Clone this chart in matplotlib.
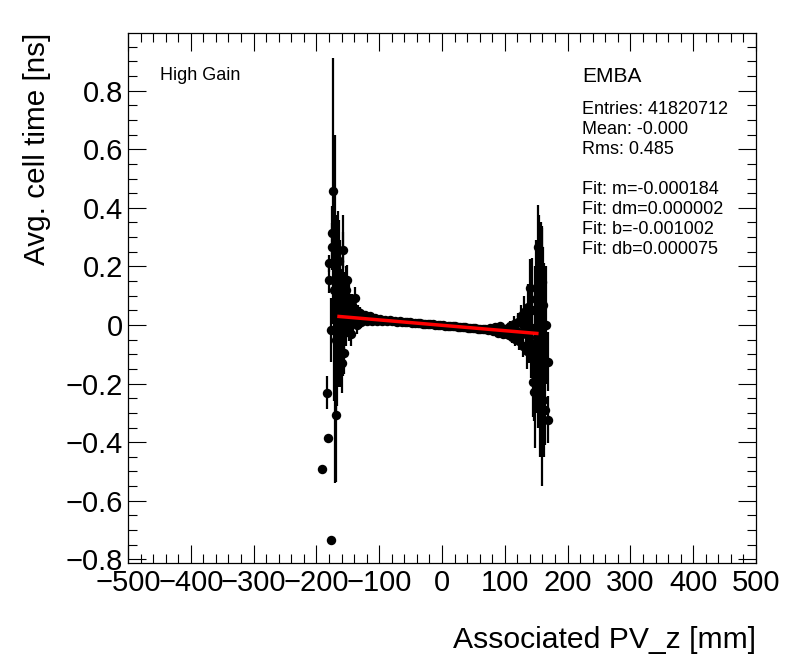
import matplotlib
matplotlib.use("Agg")
import matplotlib.pyplot as plt
from matplotlib.ticker import MultipleLocator, FuncFormatter

plt.rcParams["font.family"] = ["Liberation Sans", "DejaVu Sans"]

# ---- profile points: (PV_z [mm], avg. cell time [ns], error) ----
left_x = [-191.0, -183.0, -181.6, -180.6, -179.5, -176.0, -176.0, -175.0, -174.5, -173.6,
          -172.5, -171.0, -170.0, -169.0, -168.0, -167.0, -166.0, -165.5, -164.5, -163.6,
          -162.0, -161.0, -160.5, -159.0, -158.0, -157.0, -156.5, -155.5, -154.0, -153.0,
          -152.5, -151.0, -150.0, -149.0, -148.5, -147.5, -146.0, -145.0, -144.5, -143.0,
          -142.0, -141.5, -139.0, -137.5, -136.0, -134.5, -133.0, -131.0, -129.0, -127.0,
          -125.0]
left_y = [-0.490, -0.231, -0.387, 0.210, 0.154, -0.734, -0.017, 0.313, 0.267, 0.457,
          0.120, 0.055, 0.150, -0.307, -0.050, 0.050, 0.080, 0.180, 0.220, -0.020,
          0.140, -0.050, 0.060, -0.131, 0.100, 0.256, 0.040, -0.097, 0.065, 0.120,
          0.010, 0.154, 0.035, 0.045, 0.080, -0.005, 0.060, -0.030, 0.025, 0.070,
          0.050, 0.010, 0.091, 0.030, 0.000, 0.045, 0.020, 0.040, 0.010, 0.030, 0.018]
left_e = [0.000, 0.057, 0.000, 0.030, 0.045, 0.000, 0.110, 0.095, 0.080, 0.455,
          0.380, 0.595, 0.220, 0.230, 0.250, 0.325, 0.280, 0.210, 0.140, 0.190,
          0.150, 0.160, 0.120, 0.100, 0.275, 0.060, 0.140, 0.070, 0.090, 0.080,
          0.080, 0.050, 0.060, 0.085, 0.060, 0.050, 0.045, 0.040, 0.040, 0.035,
          0.040, 0.035, 0.040, 0.030, 0.030, 0.025, 0.025, 0.020, 0.020, 0.015, 0.015]

mid_x = [-123, -119, -115, -111, -107, -103, -99, -95, -91, -87, -83, -79, -75, -71, -67,
         -63, -59, -55, -51, -47, -43, -39, -35, -31, -27, -23, -19, -15, -11, -7, -3,
         1, 5, 9, 13, 17, 21, 25, 29, 33, 37, 41, 45, 49, 53, 57, 61, 65, 69, 73, 77,
         81, 85, 89, 93, 97]
mid_y = [0.034, 0.012, 0.030, 0.014, 0.024, 0.012, 0.021, 0.014, 0.018, 0.013, 0.016, 0.012,
         0.014, 0.011, 0.012, 0.010, 0.010, 0.009, 0.009, 0.008, 0.007, 0.006, 0.006, 0.005,
         0.004, 0.003, 0.003, 0.002, 0.001, 0.000, -0.001, -0.001, -0.002, -0.003, -0.003,
         -0.004, -0.005, -0.006, -0.006, -0.007, -0.008, -0.009, -0.009, -0.010, -0.011,
         -0.012, -0.012, -0.014, -0.012, -0.018, -0.010, -0.022, -0.008, -0.026, -0.004, -0.032]
mid_e = [0.012, 0.012, 0.010, 0.010, 0.009, 0.008, 0.008, 0.007, 0.007, 0.006, 0.006, 0.005,
         0.005, 0.005, 0.005, 0.004, 0.004, 0.004, 0.004, 0.004, 0.004, 0.004, 0.004, 0.004,
         0.004, 0.004, 0.004, 0.004, 0.004, 0.004, 0.004, 0.004, 0.004, 0.004, 0.004, 0.004,
         0.004, 0.004, 0.004, 0.004, 0.004, 0.004, 0.004, 0.005, 0.005, 0.005, 0.005, 0.006,
         0.006, 0.007, 0.007, 0.008, 0.008, 0.009, 0.010, 0.011]

right_x = [101, 103, 105, 107, 109, 111, 113, 115, 117, 119, 121, 123, 125, 127, 129, 131,
           133, 135, 137, 139, 140, 142, 143, 144, 145.6, 146.5, 148, 150, 151, 152.6, 153.5,
           155, 156, 157, 159, 160, 161.6, 161.6, 162.7, 164, 166, 168, 168]
right_y = [-0.012, -0.030, -0.010, -0.035, -0.005, -0.040, -0.012, 0.005, -0.048, -0.020,
           0.010, -0.055, 0.030, -0.030, -0.070, 0.045, -0.010, -0.090, 0.060, -0.040,
           0.126, -0.060, -0.010, 0.050, -0.194, -0.228, -0.110, 0.090, -0.100, 0.267, -0.050,
           0.030, -0.150, 0.100, 0.148, -0.110, 0.068, -0.256, -0.120, -0.290, 0.000, -0.125,
           -0.324]
right_e = [0.012, 0.014, 0.015, 0.016, 0.018, 0.020, 0.022, 0.025, 0.025, 0.028, 0.030,
           0.032, 0.040, 0.045, 0.040, 0.055, 0.060, 0.060, 0.080, 0.090, 0.100, 0.120,
           0.150, 0.180, 0.120, 0.100, 0.310, 0.200, 0.200, 0.143, 0.300, 0.345, 0.300,
           0.250, 0.190, 0.440, 0.200, 0.150, 0.330, 0.120, 0.200, 0.100, 0.080]

# ---- linear fit result ----
fit_m = -0.000184
fit_b = -0.001002
fit_range = [-164.0, 151.0]

stats_lines = ["Entries: 41820712", "Mean: -0.000", "Rms: 0.485", "",
               "Fit: m=-0.000184", "Fit: dm=0.000002", "Fit: b=-0.001002", "Fit: db=0.000075"]

W, H = 796, 672
fig = plt.figure(figsize=(W / 100, H / 100), dpi=100)
ax = fig.add_axes([128 / W, 1 - 563 / H, 628 / W, 530 / H])

for xs, ys, es in [(left_x, left_y, left_e), (mid_x, mid_y, mid_e), (right_x, right_y, right_e)]:
    ax.errorbar(xs, ys, yerr=es, fmt="o", color="black", ms=6.8, elinewidth=1.6,
                capsize=0, mew=0)

fit_y = [fit_m * v + fit_b for v in fit_range]
ax.plot(fit_range, fit_y, color="#ff0000", lw=2.5, zorder=5)

ax.set_xlim(-500, 500)
ax.set_ylim(-0.8126, 0.997)
ax.xaxis.set_major_locator(MultipleLocator(100))
ax.xaxis.set_minor_locator(MultipleLocator(20))
ax.yaxis.set_major_locator(MultipleLocator(0.2))
ax.yaxis.set_minor_locator(MultipleLocator(0.05))
fmt = FuncFormatter(lambda v, p: f"{v:g}".replace("-", "\u2212"))
ax.xaxis.set_major_formatter(fmt)
ax.yaxis.set_major_formatter(fmt)
ax.tick_params(which="both", direction="in", top=True, right=True, width=0.8,
               labelsize=21)
ax.tick_params(which="major", length=13)
ax.tick_params(which="minor", length=6.5)
ax.tick_params(axis="x", which="major", pad=4)
ax.tick_params(axis="y", which="major", pad=3.5)
for s in ax.spines.values():
    s.set_linewidth(0.9)

fig.text(37.5 / W, 1 - 33 / H, "Avg. cell time [ns]", rotation=90, ha="center",
         va="top", fontsize=21.3)
fig.text(756 / W, 1 - 648 / H, "Associated PV_z [mm]", ha="right", va="baseline",
         fontsize=21.7)

fig.text(160 / W, 1 - 80 / H, "High Gain", ha="left", va="baseline", fontsize=13)
fig.text(582 / W, 1 - 81.5 / H, "EMBA", ha="left", va="baseline", fontsize=15)
for i, line in enumerate(stats_lines):
    if line:
        fig.text(582 / W, 1 - (114 + 20 * i) / H, line, ha="left", va="baseline",
                 fontsize=13)

fig.savefig("out.png", dpi=100)
